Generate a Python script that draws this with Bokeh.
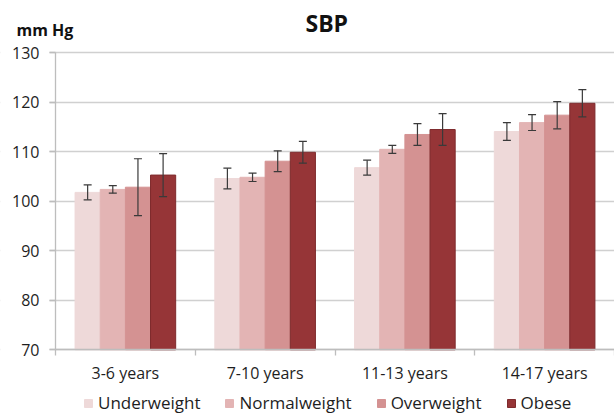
import numpy as np
from bokeh.plotting import figure
from bokeh.models import (ColumnDataSource, Whisker, TeeHead, FixedTicker, Legend,
                          LegendItem, Label, Range1d, BoxAnnotation)
from bokeh.transform import dodge
from bokeh.embed import file_html
from bokeh.resources import INLINE

# ---- data ----
categories = ["3-6 years", "7-10 years", "11-13 years", "14-17 years"]
series = ["Underweight", "Normalweight", "Overweight", "Obese"]
underweight = [101.8, 104.6, 106.8, 114.1]
underweight_err = [1.5, 2.1, 1.5, 1.8]
normalweight = [102.4, 104.85, 110.5, 115.9]
normalweight_err = [0.75, 0.85, 0.8, 1.6]
overweight = [102.85, 108.1, 113.5, 117.4]
overweight_err = [5.75, 2.1, 2.2, 2.75]
obese = [105.3, 109.9, 114.5, 119.8]
obese_err = [4.35, 2.2, 3.2, 2.75]
y_ticks = [70, 80, 90, 100, 110, 120, 130]
title_text = "SBP"
unit_text = "mm Hg"

colors = ["#EED9D9", "#E3B4B4", "#D49292", "#963537"]
line_colors = ["#EED9D9", "#E3B4B4", "#D49292", "#7E2B2D"]
FONT = "Open Sans"
TEXT = "#1E1E1E"

# ---- layout (pixels) ----
W, H = 614, 413
AX_X = 55          # y-axis position
TOP_Y = 52.3       # pixel row of the top tick
BOT_Y = 349.3      # pixel row of the bottom tick
n = len(categories)
px_cat = (W - AX_X) / n
px_unit = (BOT_Y - TOP_Y) / (y_ticks[-1] - y_ticks[0])

means = [underweight, normalweight, overweight, obese]
errs = [underweight_err, normalweight_err, overweight_err, obese_err]

pos = np.arange(n) + 0.5
data = {"x": pos}
for i, (m, e) in enumerate(zip(means, errs)):
    m = np.array(m); e = np.array(e)
    data[f"m{i}"] = m
    data[f"up{i}"] = m + e
    data[f"lo{i}"] = m - e
src = ColumnDataSource(data)

ymin, ymax = y_ticks[0], y_ticks[-1]
p = figure(width=W, height=H, output_backend="svg", toolbar_location=None,
           x_range=Range1d(-AX_X / px_cat, n),
           y_range=Range1d(ymin - (H - BOT_Y) / px_unit, ymax + TOP_Y / px_unit),
           min_border=0)
p.outline_line_color = None

bar_w = 0.18
offsets = [-1.5 * bar_w, -0.5 * bar_w, 0.5 * bar_w, 1.5 * bar_w]
renderers = []
for i in range(4):
    r = p.vbar(x=dodge("x", offsets[i]), top=f"m{i}", bottom=ymin, width=bar_w,
               source=src, fill_color=colors[i], line_color=line_colors[i],
               line_width=1)
    renderers.append(r)
    w = Whisker(base=dodge("x", offsets[i]), upper=f"up{i}", lower=f"lo{i}",
                source=src, line_color="#3A3A3A", line_width=1.2, level="annotation",
                upper_head=TeeHead(size=8, line_color="#3A3A3A", line_width=1.2),
                lower_head=TeeHead(size=8, line_color="#3A3A3A", line_width=1.2))
    p.add_layout(w)

# grid
p.xgrid.visible = False
p.ygrid.grid_line_color = "#D0D0D0"
p.ygrid.grid_line_width = 1.4
p.ygrid.ticker = FixedTicker(ticks=y_ticks)
p.ygrid.level = "image"
p.add_layout(BoxAnnotation(right=-6 / px_cat, fill_color="white", fill_alpha=1,
                           line_color=None, level="underlay"))

# y axis
ya = p.yaxis[0]
ya.fixed_location = 0
ya.bounds = (ymin, ymax)
ya.ticker = FixedTicker(ticks=y_ticks)
ya.axis_line_color = "#BDBDBD"
ya.axis_line_width = 1.3
ya.major_tick_line_color = "#BDBDBD"
ya.major_tick_line_width = 1.3
ya.major_tick_out = 6
ya.major_tick_in = 0
ya.minor_tick_line_color = None
ya.major_label_standoff = 10
ya.major_label_text_font = FONT
ya.major_label_text_font_size = "16px"
ya.major_label_text_color = TEXT

# x axis
xa = p.xaxis[0]
xa.fixed_location = ymin
xa.bounds = (0, n)
xa.ticker = FixedTicker(ticks=list(pos), minor_ticks=list(range(n + 1)))
xa.major_label_overrides = {float(v): c for v, c in zip(pos, categories)}
xa.axis_line_color = "#BDBDBD"
xa.axis_line_width = 1.3
xa.major_tick_line_color = None
xa.major_tick_out = 0
xa.major_tick_in = 0
xa.minor_tick_line_color = "#BDBDBD"
xa.minor_tick_line_width = 1.3
xa.minor_tick_out = 6
xa.minor_tick_in = 0
xa.major_label_standoff = 6
xa.major_label_text_font = FONT
xa.major_label_text_font_size = "16px"
xa.major_label_text_color = TEXT

# titles (frame-relative screen units: x from left, y from bottom)
p.add_layout(Label(x=305, y=H - 22, x_units="screen", y_units="screen", text=title_text,
                   text_font=FONT, text_font_size="23px", text_font_style="bold",
                   text_color="#111111", text_align="left", text_baseline="alphabetic"))
p.add_layout(Label(x=16, y=H - 29, x_units="screen", y_units="screen", text=unit_text,
                   text_font=FONT, text_font_size="16px", text_font_style="bold",
                   text_color="#111111", text_align="left", text_baseline="alphabetic"))

legend = Legend(items=[LegendItem(label=s, renderers=[r]) for s, r in zip(series, renderers)],
                orientation="horizontal", location=(83, -1),
                glyph_width=10, glyph_height=10, label_standoff=5, spacing=24,
                padding=0, margin=0, border_line_color=None, background_fill_alpha=0,
                label_text_font=FONT, label_text_font_size="17px",
                label_text_color=TEXT, label_height=18)
p.add_layout(legend, "center")

open("out.html", "w").write(file_html(p, INLINE))
